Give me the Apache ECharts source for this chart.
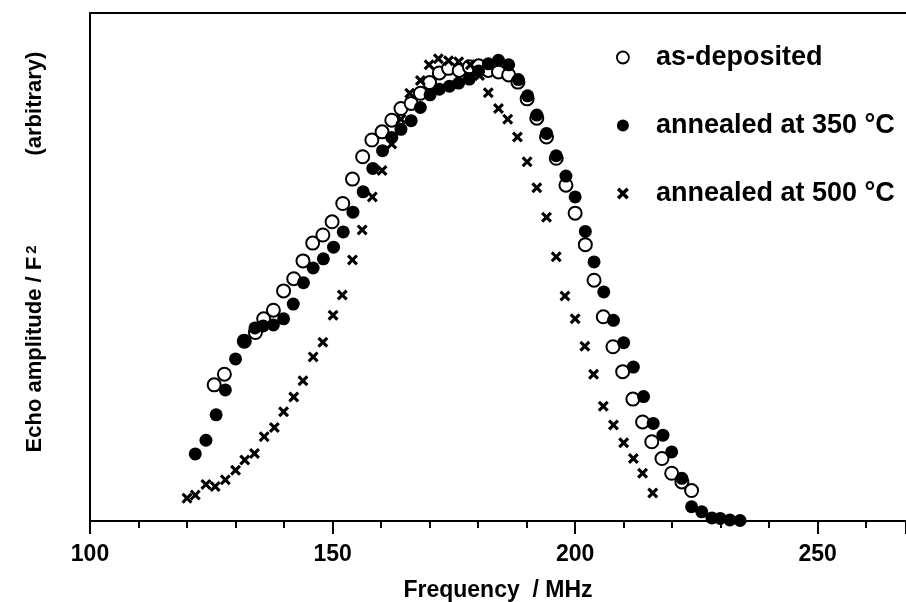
<!DOCTYPE html>
<html>
<head>
<meta charset="utf-8">
<script src="https://cdn.jsdelivr.net/npm/echarts@6/dist/echarts.min.js"></script>
<style>html,body{margin:0;padding:0;background:#fff}#c{width:906px;height:602px}</style>
</head>
<body>
<div id="c"></div>
<script>
// ---- data (frequency in MHz, echo amplitude in arbitrary units 0..100) ----
const asDepFreq = [125.6,127.7,131.8,134.1,135.8,137.8,139.9,142.0,143.9,145.9,148.0,149.9,152.1,154.1,156.2,158.1,160.2,162.2,164.1,166.2,168.1,170.0,172.0,173.9,176.1,178.2,180.1,182.1,184.2,186.3,188.2,190.1,192.1,194.1,196.1,198.1,200.0,202.1,203.9,205.8,207.8,209.8,211.9,213.9,215.8,217.9,219.9,222.0,224.0];
const asDepAmp  = [26.8,28.9,35.4,37.1,39.8,41.5,45.3,47.7,51.2,54.7,56.3,58.9,62.5,67.3,71.7,75.0,76.6,78.9,81.2,82.2,84.2,86.3,88.2,89.1,88.7,89.4,89.6,88.7,88.4,87.8,86.4,83.1,79.3,75.6,71.4,66.1,60.6,54.4,47.4,40.2,34.3,29.4,24.0,19.5,15.6,12.3,9.4,7.7,6.0];

const ann350Freq = [121.7,123.9,126.0,127.9,130.0,131.9,134.0,135.7,137.8,139.9,141.9,144.0,146.0,148.1,150.2,152.2,154.2,156.3,158.3,160.3,162.2,164.1,166.2,168.1,170.1,172.0,174.1,176.0,178.2,180.1,182.1,184.2,186.3,188.3,190.2,192.1,194.1,196.1,198.1,200.0,202.1,203.9,205.9,207.9,210.0,212.0,214.1,216.1,218.1,219.9,222.0,224.0,226.1,228.2,229.9,231.9,234.0];
const ann350Amp  = [13.2,15.9,20.9,25.8,31.9,35.4,38.0,38.4,38.6,39.8,42.7,46.9,49.8,51.6,53.9,56.9,60.8,64.8,69.4,72.9,75.5,77.1,78.8,81.4,83.9,85.0,85.6,86.2,87.0,88.6,90.0,90.7,89.8,86.9,83.7,79.9,76.3,71.9,67.9,63.8,57.0,51.0,45.1,39.5,35.1,30.3,24.5,19.2,16.9,13.6,8.4,2.8,1.8,0.6,0.5,0.2,0.1];

const ann500Freq = [120.0,121.7,123.9,125.8,127.9,130.0,131.9,133.9,135.9,138.0,139.9,142.0,143.9,146.0,148.0,150.1,152.0,154.1,156.1,158.2,160.2,162.2,164.1,165.9,168.1,169.9,171.8,173.9,176.0,178.4,180.3,182.1,184.2,186.1,188.1,190.1,192.1,194.1,196.1,197.9,200.0,202.0,203.8,205.8,207.9,210.0,212.0,213.9,216.0];
const ann500Amp  = [4.5,5.1,7.2,6.8,8.1,10.0,12.0,13.3,16.6,18.4,21.5,24.4,27.6,32.3,35.2,40.5,44.5,51.4,57.3,63.8,69.0,74.2,79.1,84.2,86.7,89.8,91.0,90.6,90.4,89.8,87.7,84.3,81.2,79.1,75.6,70.7,65.6,59.8,52.0,44.3,39.8,34.4,28.9,22.6,18.9,15.4,12.3,9.4,5.5];

const seriesNames = ['as-deposited', 'annealed at 350 \u00B0C', 'annealed at 500 \u00B0C'];
const xTickLabels = [100, 150, 200, 250];
const xMin = 100, xMax = 268.2;

const zip = (a, b) => a.map((v, i) => [v, b[i]]);
const FONT = "'Liberation Sans', Arial, Helvetica, sans-serif";
const CROSS = 'path://M2,0 L5,3 L8,0 L10,2 L7,5 L10,8 L8,10 L5,7 L2,10 L0,8 L3,5 L0,2 Z';

const chart = echarts.init(document.getElementById('c'), null, {renderer: 'canvas'});
chart.setOption({
  backgroundColor: '#fff',
  animation: false,
  grid: {left: 90, right: 0, top: 13, bottom: 81, containLabel: false, outerBoundsMode: 'none'},
  legend: {
    orient: 'vertical', left: 611, top: 39, itemGap: 41,
    itemWidth: 12, itemHeight: 12,
    textStyle: {fontFamily: FONT, fontWeight: 'bold', fontSize: 27, color: '#000', padding: [0, 0, 0, 22]},
    data: [
      {name: seriesNames[0], icon: 'circle', itemStyle: {color: '#fff', borderColor: '#000', borderWidth: 1.8}},
      {name: seriesNames[1], icon: 'circle', itemStyle: {color: '#000', borderWidth: 0}},
      {name: seriesNames[2], icon: CROSS, itemStyle: {color: '#000', borderWidth: 0}}
    ]
  },
  xAxis: [
    { // minor ticks every 10 MHz
      type: 'value', min: xMin, max: xMax, interval: 10, position: 'bottom',
      axisLine: {show: true, lineStyle: {color: '#000', width: 2}},
      axisTick: {show: true, length: 7, lineStyle: {color: '#000', width: 2}},
      axisLabel: {show: false}, splitLine: {show: false},
      name: 'Frequency  / MHz', nameLocation: 'middle', nameGap: 58,
      nameTextStyle: {fontFamily: FONT, fontWeight: 'bold', fontSize: 23, color: '#000'}
    },
    { // major ticks with labels
      type: 'value', min: xMin, max: xMax, interval: 50, position: 'bottom',
      axisLine: {show: false},
      axisTick: {show: true, length: 13, lineStyle: {color: '#000', width: 2}},
      axisLabel: {show: true, margin: 22, fontFamily: FONT, fontWeight: 'bold', fontSize: 23, color: '#000',
        formatter: v => (xTickLabels.indexOf(v) >= 0 ? String(v) : '')},
      splitLine: {show: false}
    },
    { // top frame line
      type: 'value', min: xMin, max: xMax, position: 'top',
      axisLine: {show: true, lineStyle: {color: '#000', width: 2}},
      axisTick: {show: false}, axisLabel: {show: false}, splitLine: {show: false}
    }
  ],
  yAxis: {
    type: 'value', min: 0, max: 100,
    axisLine: {show: true, lineStyle: {color: '#000', width: 2}},
    axisTick: {show: false}, axisLabel: {show: false}, splitLine: {show: false},
    name: '{pad|}Echo amplitude / F{sup|2}{gap|}(arbitrary)',
    nameLocation: 'middle', nameGap: 44, nameRotate: 90,
    nameTextStyle: {
      fontFamily: FONT, fontWeight: 'bold', fontSize: 22, color: '#000',
      rich: {
        sup: {fontFamily: FONT, fontWeight: 'bold', fontSize: 15, color: '#000', verticalAlign: 'top', padding: [0, 0, 0, 3]},
        gap: {width: 90},
        pad: {width: 30}
      }
    }
  },
  series: [
    {name: seriesNames[0], type: 'scatter', clip: false, z: 2, symbol: 'circle', symbolSize: 13,
     itemStyle: {color: '#fff', borderColor: '#000', borderWidth: 2, opacity: 1},
     data: zip(asDepFreq, asDepAmp)},
    {name: seriesNames[1], type: 'scatter', clip: false, z: 3, symbol: 'circle', symbolSize: 13,
     itemStyle: {color: '#000', borderWidth: 0, opacity: 1},
     data: zip(ann350Freq, ann350Amp)},
    {name: seriesNames[2], type: 'scatter', clip: false, z: 4, symbol: CROSS, symbolSize: 11,
     itemStyle: {color: '#000', borderWidth: 0, opacity: 1},
     data: zip(ann500Freq, ann500Amp)}
  ]
});
</script>
</body>
</html>
